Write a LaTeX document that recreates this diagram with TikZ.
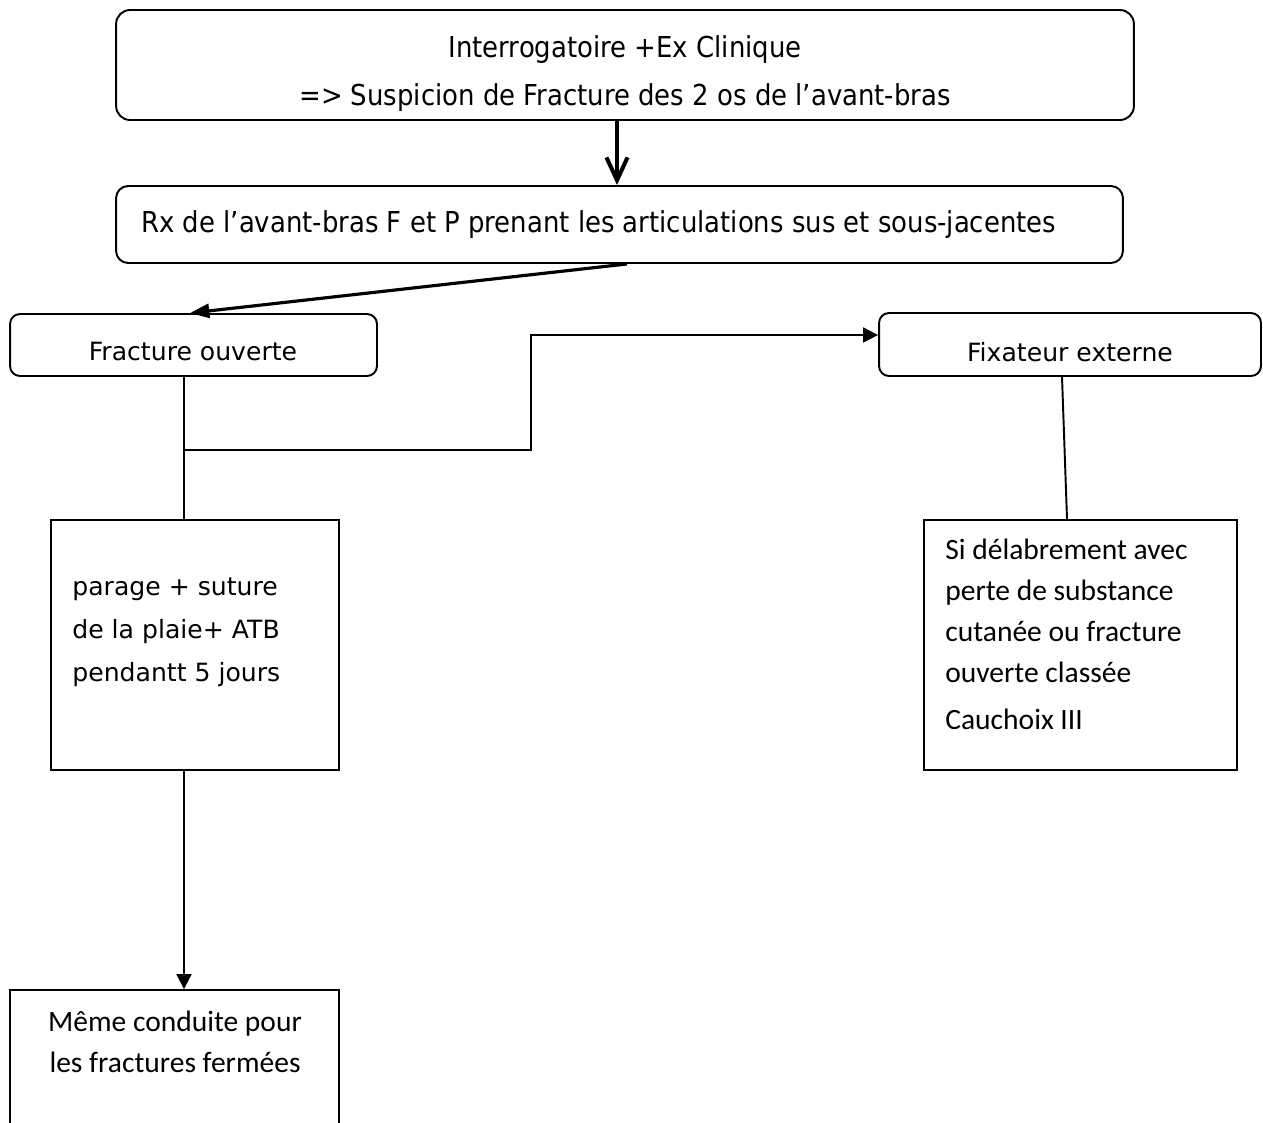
\documentclass[tikz,border=0pt]{standalone}
\usepackage{fontspec}
\setmainfont{DejaVu Sans}
\newfontfamily\etroite{DejaVu Sans}[FakeStretch=0.9]
\newfontfamily\calibri{Carlito}
\usetikzlibrary{arrows.meta}

\begin{document}
\begin{tikzpicture}[x=0.02cm, y=-0.02cm]
    \tikzset{
        boite_arrondie/.style={draw, line width=1.1pt, rounded corners=0.2cm, inner sep=0pt},
        boite/.style={draw, line width=1.1pt, inner sep=0pt},
        liaison/.style={line width=1.1pt},
        fleche/.style={line width=1.1pt, -{Triangle[length=8.5pt, width=8.5pt]}},
        fleche_epaisse/.style={line width=2.3pt, -{Straight Barb[length=13pt, width=12pt, line width=2.3pt]}},
        fleche_oblique/.style={line width=1.8pt, -{Triangle[length=11pt, width=8pt]}},
        texte_large/.style={font=\fontsize{14.3}{24.5}\selectfont, align=left, inner sep=0pt},
        texte_etroit/.style={font=\etroite\fontsize{16.4}{27.3}\selectfont, inner sep=0pt},
        texte_calibri/.style={font=\calibri\fontsize{16.8}{23.3}\selectfont, inner sep=0pt}
    }

    \clip (0,0) rectangle (1263,1122);
    \fill[white] (0,0) rectangle (1263,1122);

    % --- Boites ---
    \node[boite_arrondie, rounded corners=0.28cm, minimum width=20.36cm, minimum height=2.2cm] (examen) at (625,65) {};
    \node[boite_arrondie, rounded corners=0.24cm, minimum width=20.14cm, minimum height=1.54cm] (radio) at (619.5,224.5) {};
    \node[boite_arrondie, minimum width=7.34cm, minimum height=1.24cm] (ouverte) at (193.5,345) {};
    \node[boite_arrondie, minimum width=7.64cm, minimum height=1.26cm] (fixateur) at (1070,344.5) {};
    \node[boite, minimum width=5.76cm, minimum height=5cm] (parage) at (195,645) {};
    \node[boite, minimum width=6.26cm, minimum height=5cm] (delabrement) at (1080.5,645) {};
    \node[boite, minimum width=6.58cm, minimum height=3.6cm] (fermee) at (174.5,1080) {};

    % --- Textes ---
    \node[texte_etroit, align=center] (examen_txt) at (625,74) {Interrogatoire +Ex Clinique\\=> Suspicion de Fracture des 2 os de l’avant-bras};
    \node[texte_etroit, anchor=west] (radio_txt) at (141,225) {Rx de l’avant-bras F et P prenant les articulations sus et sous-jacentes};
    \node[texte_large] (ouverte_txt) at (193,352) {Fracture ouverte};
    \node[texte_large] (fixateur_txt) at (1070,352) {Fixateur externe};
    \node[texte_large, anchor=west] (parage_txt) at (72,632) {parage + suture\\de la plaie+ ATB\\pendantt 5 jours};
    \node[texte_calibri, align=left, anchor=west] (delabrement_txt) at (945,634) {Si délabrement avec\\perte de substance\\cutanée ou fracture\\ouverte classée\\[3.4pt]Cauchoix III};
    \node[texte_calibri, align=center] (fermee_txt) at (175,1042) {Même conduite pour\\les fractures fermées};

    % --- Liaisons ---
    \draw[fleche_epaisse] (617,0 |- examen.south) -- (617,0 |- radio.north);
    \draw[fleche_oblique] (627,0 |- radio.south) -- (190,0 |- ouverte.north);
    \draw[liaison] (184,0 |- ouverte.south) -- (184,0 |- parage.north);
    \draw[fleche] (184,450) -- (531,450) -- (531,335) -- (fixateur.west |- 0,335);
    \draw[liaison] (1062,0 |- fixateur.south) -- (1067,0 |- delabrement.north);
    \draw[fleche] (184,0 |- parage.south) -- (184,0 |- fermee.north);
\end{tikzpicture}
\end{document}
